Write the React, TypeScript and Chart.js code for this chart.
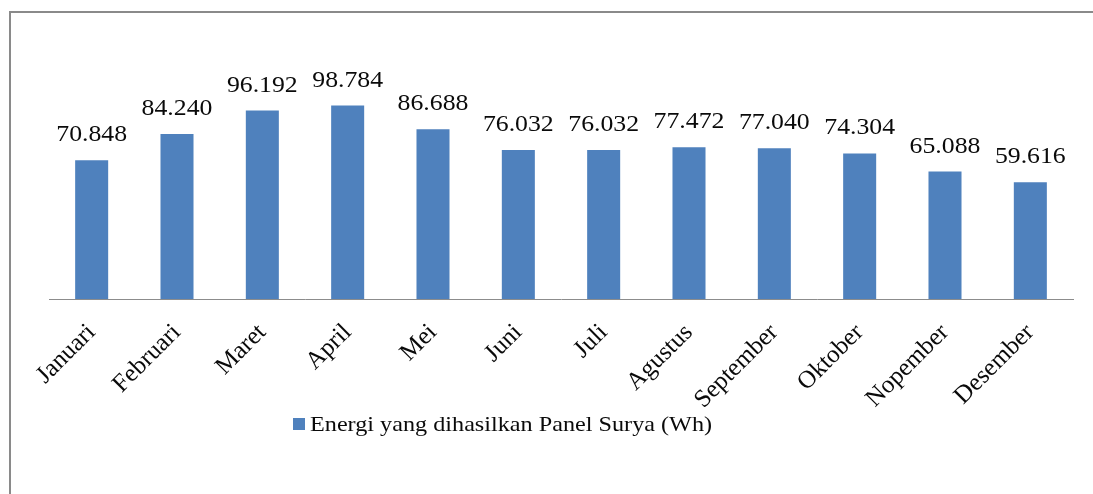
import React, { useEffect, useRef } from "react";
import { Chart, registerables } from "chart.js";

Chart.register(...registerables);

const categories = ["Januari", "Februari", "Maret", "April", "Mei", "Juni", "Juli", "Agustus", "September", "Oktober", "Nopember", "Desember"];
const energyValues = [70.848, 84.24, 96.192, 98.784, 86.688, 76.032, 76.032, 77.472, 77.04, 74.304, 65.088, 59.616];
const valueLabels = ["70.848", "84.240", "96.192", "98.784", "86.688", "76.032", "76.032", "77.472", "77.040", "74.304", "65.088", "59.616"];
const seriesName = "Energi yang dihasilkan Panel Surya (Wh)";

const BAR_COLOR = "#4F81BD";
const SERIF = "'Liberation Serif'";

const framePlugin = {
  id: "frame",
  beforeDraw(chart: any) {
    const ctx = chart.ctx;
    ctx.save();
    ctx.fillStyle = "#ffffff";
    ctx.fillRect(0, 0, chart.width, chart.height);
    ctx.strokeStyle = "#8a8a8a";
    ctx.lineWidth = 2;
    ctx.beginPath();
    ctx.moveTo(10, chart.height + 5);
    ctx.lineTo(10, 12);
    ctx.lineTo(chart.width + 5, 12);
    ctx.stroke();
    ctx.restore();
  },
};

const labelPlugin = {
  id: "valueLabels",
  afterDatasetsDraw(chart: any) {
    const ctx = chart.ctx;
    const meta = chart.getDatasetMeta(0);
    ctx.save();
    ctx.fillStyle = "#0a0a0a";
    ctx.font = `23px ${SERIF}`;
    ctx.textAlign = "center";
    ctx.textBaseline = "alphabetic";
    meta.data.forEach((bar: any, i: number) => {
      ctx.save();
      ctx.translate(bar.x, bar.y - 19);
      ctx.scale(1.12, 1);
      ctx.fillText(valueLabels[i], 0, 0);
      ctx.restore();
    });
    // legend
    const lx = 293;
    const ly = 418;
    ctx.fillStyle = BAR_COLOR;
    ctx.fillRect(lx, ly, 12, 12);
    ctx.fillStyle = "#0a0a0a";
    ctx.textAlign = "left";
    ctx.font = `22px ${SERIF}`;
    ctx.save();
    ctx.translate(lx + 17, ly + 13);
    ctx.scale(1.1, 1);
    ctx.fillText(seriesName, 0, 0);
    ctx.restore();
    ctx.restore();
  },
};

export default function App() {
  const canvasRef = useRef<HTMLCanvasElement | null>(null);

  useEffect(() => {
    document.body.style.margin = "0";
    const canvas = canvasRef.current;
    if (!canvas) return;
    const chart = new Chart(canvas, {
      type: "bar",
      data: {
        labels: categories,
        datasets: [
          {
            label: seriesName,
            data: energyValues,
            backgroundColor: BAR_COLOR,
            borderWidth: 0,
            barPercentage: 0.387,
            categoryPercentage: 1,
          },
        ],
      },
      options: {
        animation: false,
        responsive: false,
        maintainAspectRatio: false,
        layout: { padding: { left: 49, right: 20, top: 64, bottom: 0 } },
        plugins: {
          legend: { display: false },
          tooltip: { enabled: false },
        },
        scales: {
          x: {
            offset: true,
            grid: { display: false, drawTicks: false },
            border: { display: true, color: "#8c8c8c", width: 1 },
            ticks: {
              color: "#0a0a0a",
              font: { family: SERIF, size: 25 },
              maxRotation: 45,
              minRotation: 45,
              padding: 19,
              autoSkip: false,
            },
            afterFit(scale: any) {
              scale.height = 195;
            },
          },
          y: {
            display: false,
            min: 0,
            max: 120,
          },
        },
      },
      plugins: [framePlugin, labelPlugin],
    });
    return () => chart.destroy();
  }, []);

  return (
    <div style={{ position: "fixed", left: 0, top: 0, width: 1093, height: 494 }}>
      <canvas ref={canvasRef} width={1093} height={494} style={{ width: 1093, height: 494, display: "block" }} />
    </div>
  );
}
